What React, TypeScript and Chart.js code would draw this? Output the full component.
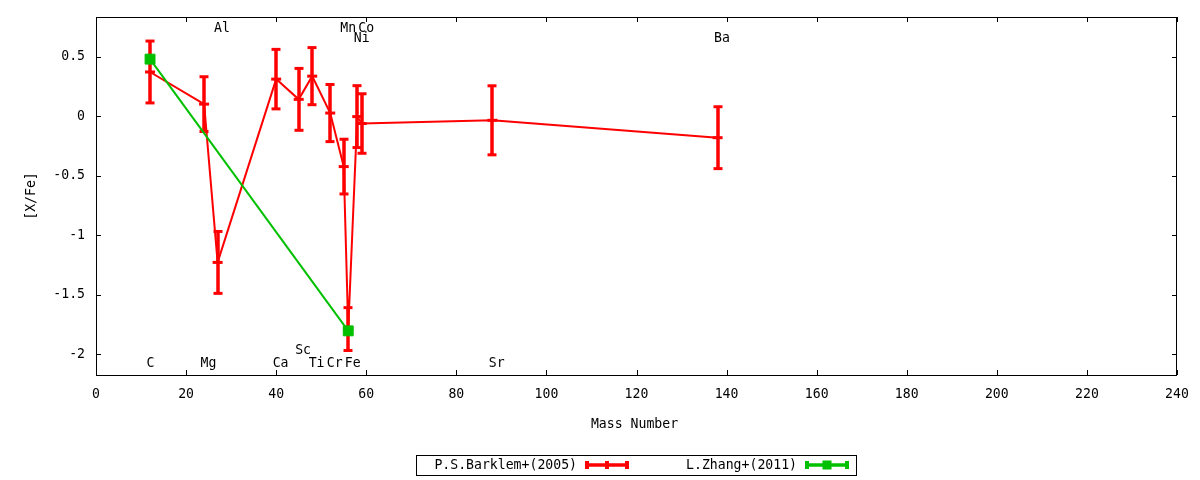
import React, { useEffect, useRef } from 'react';
import { Chart, registerables } from 'chart.js';

Chart.register(...registerables);

// ---- data ----
const barklemMass = [12, 24, 27, 40, 45, 48, 52, 55, 56, 58, 59, 88, 138];
const barklemXFe = [0.37, 0.10, -1.23, 0.31, 0.14, 0.335, 0.025, -0.425, -1.79, -0.005, -0.063, -0.036, -0.182];
const barklemErr = [0.26, 0.23, 0.26, 0.25, 0.26, 0.24, 0.24, 0.23, 0.18, 0.26, 0.25, 0.29, 0.26];

const zhangMass = [12, 56];
const zhangXFe = [0.478, -1.805];

const labelNames = ['C', 'Mg', 'Al', 'Ca', 'Sc', 'Ti', 'Cr', 'Mn', 'Fe', 'Co', 'Ni', 'Sr', 'Ba'];
const labelMass = [12, 24, 27, 40, 45, 48, 52, 55, 56, 59, 58, 88, 138];
const labelY = [-2.076, -2.076, 0.739, -2.076, -1.966, -2.076, -2.076, 0.739, -2.076, 0.739, 0.655, -2.076, 0.655];

const xTickValues = [0, 20, 40, 60, 80, 100, 120, 140, 160, 180, 200, 220, 240];
const yTickValues = [-2, -1.5, -1, -0.5, 0, 0.5];
const xTickLabels = ['0', '20', '40', '60', '80', '100', '120', '140', '160', '180', '200', '220', '240'];
const yTickLabels = ['-2', '-1.5', '-1', '-0.5', '0', '0.5'];
const xRange = [0, 240];
const yRange = [-2.176, 0.832];

const seriesNames = ['P.S.Barklem+(2005)', 'L.Zhang+(2011)'];
const xTitle = 'Mass Number';
const yTitle = '[X/Fe]';

const RED = '#ff0000';
const GREEN = '#00c000';
const FONT_FAMILY = '"DejaVu Sans Mono", "Liberation Mono", monospace';
const FONT = `14px ${FONT_FAMILY}`;
const SX = 0.94;

function seg(ctx: CanvasRenderingContext2D, x1: number, y1: number, x2: number, y2: number) {
  ctx.beginPath();
  ctx.moveTo(x1, y1);
  ctx.lineTo(x2, y2);
  ctx.stroke();
}

function text(ctx: CanvasRenderingContext2D, s: string, x: number, y: number, align: CanvasTextAlign, rot = 0) {
  ctx.save();
  ctx.translate(x, y);
  if (rot) ctx.rotate(rot);
  ctx.scale(SX, 1);
  ctx.textAlign = align;
  ctx.textBaseline = 'middle';
  ctx.fillText(s, 0, 0);
  ctx.restore();
}

const decoPlugin = {
  id: 'gnuplotDeco',
  beforeDatasetsDraw(chart: any) {
    const { ctx, chartArea: a, scales } = chart;
    const x = scales.x;
    const y = scales.y;
    ctx.save();
    ctx.strokeStyle = '#000';
    ctx.lineWidth = 1;
    ctx.strokeRect(a.left + 0.5, a.top + 0.5, a.right - a.left - 1, a.bottom - a.top);
    const tl = 5;
    xTickValues.forEach((v) => {
      const px = Math.round(x.getPixelForValue(v)) + 0.5;
      seg(ctx, px, a.bottom, px, a.bottom - tl);
      seg(ctx, px, a.top, px, a.top + tl);
    });
    yTickValues.forEach((v) => {
      const py = Math.round(y.getPixelForValue(v)) + 0.5;
      seg(ctx, a.left, py, a.left + tl, py);
      seg(ctx, a.right, py, a.right - tl, py);
    });
    ctx.restore();
  },
  afterDatasetDraw(chart: any, args: any) {
    if (args.index !== 0) return;
    const { ctx, scales } = chart;
    const x = scales.x;
    const y = scales.y;
    ctx.save();
    ctx.strokeStyle = RED;
    ctx.lineCap = 'butt';
    barklemMass.forEach((m, i) => {
      const px = Math.round(x.getPixelForValue(m));
      const yt = y.getPixelForValue(barklemXFe[i] + barklemErr[i]);
      const yb = y.getPixelForValue(barklemXFe[i] - barklemErr[i]);
      ctx.lineWidth = 3.5;
      seg(ctx, px, yt, px, yb);
      ctx.lineWidth = 3;
      seg(ctx, px - 4.5, yt, px + 4.5, yt);
      seg(ctx, px - 4.5, yb, px + 4.5, yb);
    });
    ctx.restore();
  },
  afterDraw(chart: any) {
    const { ctx, chartArea: a, scales } = chart;
    const x = scales.x;
    const y = scales.y;
    ctx.save();
    ctx.font = FONT;
    ctx.fillStyle = '#000';

    // tick labels
    xTickValues.forEach((v, i) => text(ctx, xTickLabels[i], x.getPixelForValue(v), 394, 'center'));
    yTickValues.forEach((v, i) => text(ctx, yTickLabels[i], 85, y.getPixelForValue(v), 'right'));

    // element labels
    labelNames.forEach((n, i) => {
      text(ctx, n, x.getPixelForValue(labelMass[i]) - 3.5, y.getPixelForValue(labelY[i]), 'left');
    });

    // axis titles
    text(ctx, xTitle, (a.left + a.right) / 2 - 2, 424, 'center');
    text(ctx, yTitle, 31, (a.top + a.bottom) / 2, 'center', -Math.PI / 2);

    // legend
    ctx.strokeStyle = '#000';
    ctx.lineWidth = 1;
    ctx.strokeRect(416.5, 455.5, 440, 20);
    const ly = 465;
    const entries = [
      { label: seriesNames[0], tx: 577, s0: 585, s1: 629, color: RED, square: false },
      { label: seriesNames[1], tx: 797, s0: 805, s1: 849, color: GREEN, square: true },
    ];
    entries.forEach((e) => {
      ctx.fillStyle = '#000';
      text(ctx, e.label, e.tx, ly, 'right');
      ctx.strokeStyle = e.color;
      ctx.lineWidth = 3.5;
      seg(ctx, e.s0, ly, e.s1, ly);
      ctx.lineWidth = 4;
      seg(ctx, e.s0 + 2, ly - 4, e.s0 + 2, ly + 4);
      seg(ctx, e.s1 - 2, ly - 4, e.s1 - 2, ly + 4);
      const mid = (e.s0 + e.s1) / 2;
      if (e.square) {
        ctx.fillStyle = e.color;
        ctx.fillRect(mid - 4.5, ly - 4.5, 9, 9);
      } else {
        seg(ctx, mid, ly - 4, mid, ly + 4);
      }
    });
    ctx.restore();
  },
};

export default function App() {
  const ref = useRef<HTMLCanvasElement | null>(null);

  useEffect(() => {
    if (!ref.current) return;
    const chart = new Chart(ref.current, {
      type: 'line',
      data: {
        datasets: [
          {
            label: seriesNames[0],
            data: barklemMass.map((m, i) => ({ x: m, y: barklemXFe[i] })),
            borderColor: RED,
            backgroundColor: RED,
            borderWidth: 2,
            pointStyle: 'line',
            pointRadius: 5,
            pointBorderWidth: 3,
            pointBorderColor: RED,
            tension: 0,
            order: 1,
          },
          {
            label: seriesNames[1],
            data: zhangMass.map((m, i) => ({ x: m, y: zhangXFe[i] })),
            borderColor: GREEN,
            backgroundColor: GREEN,
            borderWidth: 2,
            pointStyle: 'rect',
            pointRadius: 7,
            pointBorderWidth: 1,
            pointBackgroundColor: GREEN,
            pointBorderColor: GREEN,
            tension: 0,
            order: 0,
          },
        ],
      },
      options: {
        responsive: false,
        animation: false,
        devicePixelRatio: 1,
        layout: { padding: { top: 17, right: 23, left: 0, bottom: 0 } },
        plugins: { legend: { display: false }, tooltip: { enabled: false } },
        scales: {
          x: {
            type: 'linear',
            min: xRange[0],
            max: xRange[1],
            afterBuildTicks: (s: any) => {
              s.ticks = xTickValues.map((v) => ({ value: v }));
            },
            afterFit: (s: any) => {
              s.height = 105;
              s.paddingLeft = 0;
              s.paddingRight = 0;
              s.paddingTop = 0;
              s.paddingBottom = 0;
            },
            grid: { display: false },
            border: { display: false },
            ticks: { display: false },
          },
          y: {
            type: 'linear',
            min: yRange[0],
            max: yRange[1],
            afterBuildTicks: (s: any) => {
              s.ticks = yTickValues.map((v) => ({ value: v }));
            },
            afterFit: (s: any) => {
              s.width = 96;
              s.paddingLeft = 0;
              s.paddingRight = 0;
              s.paddingTop = 0;
              s.paddingBottom = 0;
            },
            grid: { display: false },
            border: { display: false },
            ticks: { display: false },
          },
        },
      },
      plugins: [decoPlugin],
    });
    return () => chart.destroy();
  }, []);

  return (
    <div style={{ position: 'absolute', left: 0, top: 0, width: 1200, height: 480, background: '#fff' }}>
      <canvas ref={ref} width={1200} height={480} />
    </div>
  );
}
